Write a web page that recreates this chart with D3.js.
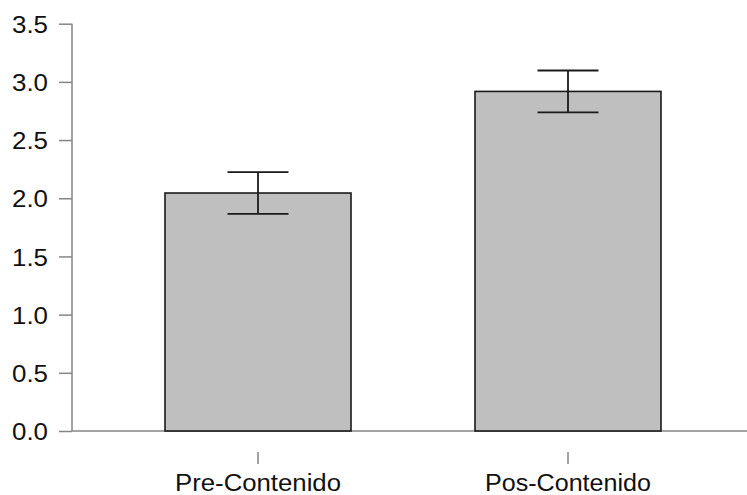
<!DOCTYPE html>
<html><head><meta charset="utf-8">
<script src="https://cdn.jsdelivr.net/npm/d3@7"></script>
<style>body{margin:0;background:#fff}svg{display:block}</style>
</head><body>
<script>
const categories = ["Pre-Contenido", "Pos-Contenido"];
const means = [2.045, 2.918];
const errors = [0.18, 0.18];
const yTicks = [0, 0.5, 1.0, 1.5, 2.0, 2.5, 3.0, 3.5];

(function () {
const W = 747, H = 495;
const svg = d3.select("body").append("svg").attr("width", W).attr("height", H);
const mLeft = 72, mBottom = 431, mTop = 23.7;
const y = d3.scaleLinear().domain([0, 3.5]).range([mBottom, mTop]);
const x = d3.scaleBand().domain(categories).range([mLeft, 754]).paddingInner(0.4).paddingOuter(0.3);
const axisColor = "#858585";
const font = "'Liberation Sans', Arial, sans-serif";

// y axis
const yAxis = svg.append("g").attr("transform", `translate(${mLeft},0)`)
  .call(d3.axisLeft(y).tickValues(yTicks).tickFormat(d3.format(".1f")).tickSize(13).tickPadding(11));
yAxis.attr("font-size", 24).attr("font-family", font);
yAxis.select(".domain").attr("stroke", axisColor).attr("stroke-width", 1.5).attr("d", `M0,${y(3.5)}V${y(0)}`);
yAxis.selectAll(".tick line").attr("stroke", axisColor).attr("stroke-width", 1.5);
yAxis.selectAll(".tick text").attr("fill", "#111").attr("dy", "0.36em")
  .attr("textLength", 36).attr("lengthAdjust", "spacingAndGlyphs");

// x baseline
svg.append("line").attr("x1", mLeft).attr("x2", W).attr("y1", mBottom).attr("y2", mBottom)
  .attr("stroke", axisColor).attr("stroke-width", 1.5);

// bars
svg.append("g").selectAll("rect").data(categories).join("rect")
  .attr("x", d => x(d)).attr("width", x.bandwidth())
  .attr("y", (d, i) => y(means[i])).attr("height", (d, i) => y(0) - y(means[i]))
  .attr("fill", "#bfbfbf").attr("stroke", "#1a1a1a").attr("stroke-width", 1.6);

// error bars
const cap = 30.5;
const eg = svg.append("g").attr("stroke", "#1a1a1a").attr("stroke-width", 1.8);
categories.forEach((c, i) => {
  const cx = x(c) + x.bandwidth() / 2;
  const yt = y(means[i] + errors[i]), yb = y(means[i] - errors[i]);
  eg.append("line").attr("x1", cx).attr("x2", cx).attr("y1", yt).attr("y2", yb);
  eg.append("line").attr("x1", cx - cap).attr("x2", cx + cap).attr("y1", yt).attr("y2", yt);
  eg.append("line").attr("x1", cx - cap).attr("x2", cx + cap).attr("y1", yb).attr("y2", yb);
});

// x ticks and labels
const xg = svg.append("g");
categories.forEach(c => {
  const cx = x(c) + x.bandwidth() / 2;
  xg.append("line").attr("x1", cx).attr("x2", cx).attr("y1", 452).attr("y2", 464)
    .attr("stroke", axisColor).attr("stroke-width", 1.5);
  xg.append("text").attr("x", cx).attr("y", 491).attr("text-anchor", "middle")
    .attr("fill", "#111").attr("font-family", font).attr("font-size", 23.5)
    .attr("textLength", 166).attr("lengthAdjust", "spacingAndGlyphs").text(c);
});
})();
</script>
</body></html>
